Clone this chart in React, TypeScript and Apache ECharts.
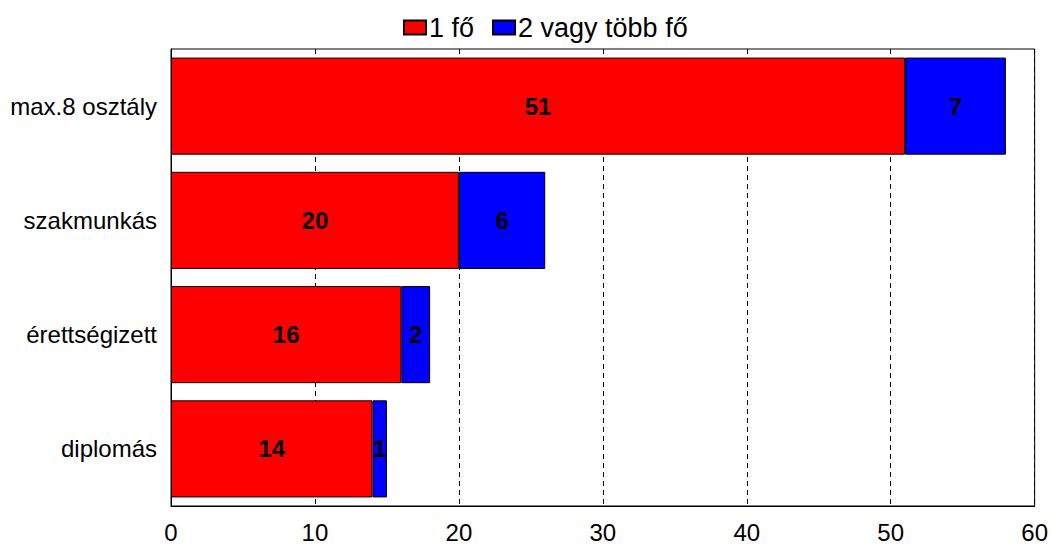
import React, { useEffect, useRef } from "react";
import * as echarts from "echarts";

const categories = ["max.8 osztály", "szakmunkás", "érettségizett", "diplomás"];
const seriesNames = ["1 fő", "2 vagy több fő"];
const onePerson = [51, 20, 16, 14];
const twoOrMore = [7, 6, 2, 1];
const xTicks = { min: 0, max: 60, interval: 10 };

export default function App() {
  const ref = useRef<HTMLDivElement>(null);
  useEffect(() => {
    if (!ref.current) return;
    const chart = echarts.init(ref.current, null, { renderer: "svg" });
    const font = "'Liberation Sans', Arial, sans-serif";
    const label = {
      show: true,
      position: "inside",
      color: "#000",
      fontWeight: "bold",
      fontSize: 24,
      fontFamily: font,
    };
    chart.setOption({
      animation: false,
      backgroundColor: "#fff",
      textStyle: { fontFamily: font },
      legend: {
        top: 9,
        left: 398,
        itemWidth: 22,
        itemHeight: 14,
        itemGap: 18,
        icon: "rect",
        textStyle: { fontSize: 27, color: "#000", fontFamily: font, padding: [0, 0, 0, -2] },
        data: seriesNames,
      },
      grid: {
        left: 171,
        right: 16,
        top: 49,
        bottom: 39,
        show: true,
        borderColor: "#000",
        borderWidth: 1,
        containLabel: false,
      },
      xAxis: {
        type: "value",
        min: xTicks.min,
        max: xTicks.max,
        interval: xTicks.interval,
        axisLine: { show: true, lineStyle: { color: "#000" } },
        axisTick: { show: false },
        axisLabel: { color: "#000", fontSize: 24, fontFamily: font, margin: 14 },
        splitLine: { show: true, lineStyle: { color: "#000", type: [5, 4], width: 1 } },
      },
      yAxis: {
        type: "category",
        inverse: true,
        data: categories,
        axisLine: { show: true, lineStyle: { color: "#000" } },
        axisTick: { show: false },
        axisLabel: { color: "#000", fontSize: 24, fontFamily: font, margin: 14 },
      },
      series: [
        {
          name: seriesNames[0],
          type: "bar",
          stack: "total",
          barWidth: "85%",
          data: onePerson,
          itemStyle: { color: "#ff0000", borderColor: "#000", borderWidth: 1 },
          label,
        },
        {
          name: seriesNames[1],
          type: "bar",
          stack: "total",
          barWidth: "85%",
          data: twoOrMore,
          itemStyle: { color: "#0000ff", borderColor: "#000", borderWidth: 1 },
          label,
        },
      ],
    });
    return () => chart.dispose();
  }, []);
  return (
    <div
      ref={ref}
      style={{ position: "fixed", left: 0, top: 0, width: 1051, height: 545 }}
    />
  );
}
